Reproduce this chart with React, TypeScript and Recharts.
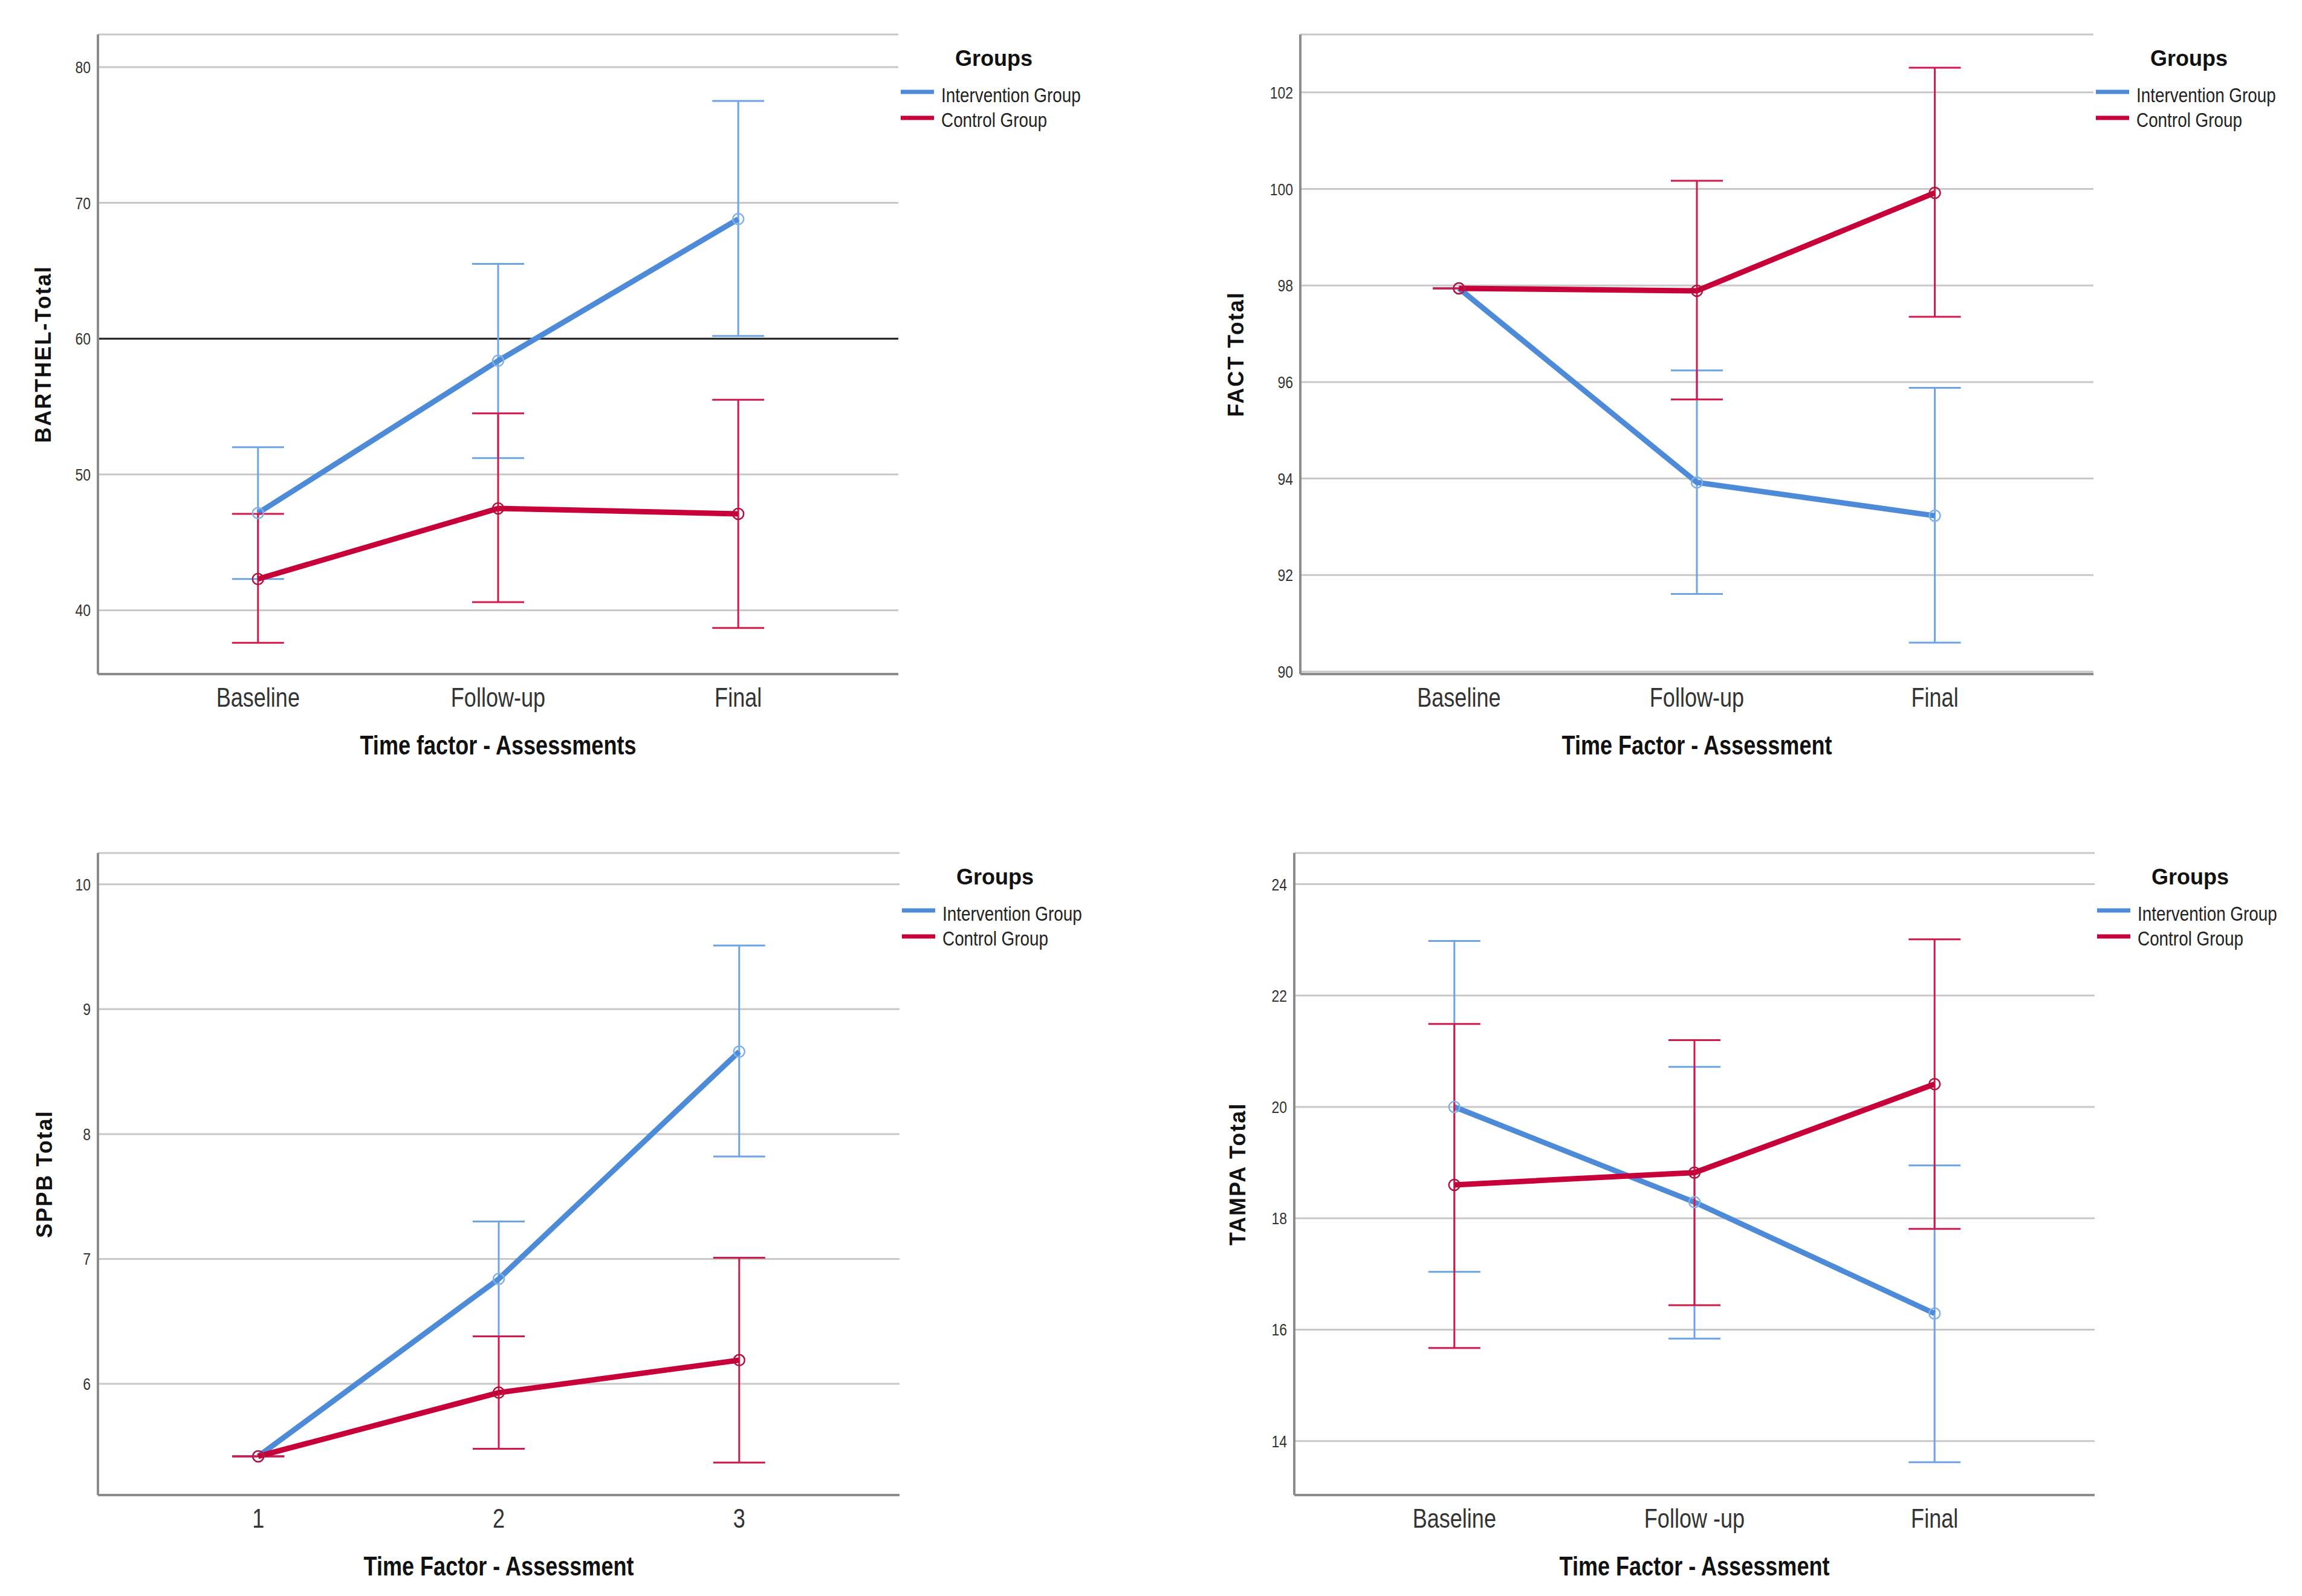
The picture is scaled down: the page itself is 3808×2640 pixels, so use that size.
import React from 'react';
import { LineChart, Line, XAxis, YAxis, CartesianGrid, ErrorBar, Legend, ReferenceLine, Label } from 'recharts';

// time points and tick labels
const timeLabels = ['Baseline', 'Follow-up', 'Final'];
const sppbLabels = ['1', '2', '3'];
const tampaLabels = ['Baseline', 'Follow -up', 'Final'];

// BARTHEL-Total: means and 95% CI bounds
const barthelIntMean = [47.15, 58.37, 68.81];
const barthelIntLow = [42.3, 51.2, 60.2];
const barthelIntHigh = [52.0, 65.5, 77.5];
const barthelCtlMean = [42.3, 47.5, 47.1];
const barthelCtlLow = [37.6, 40.6, 38.7];
const barthelCtlHigh = [47.1, 54.5, 55.5];
const barthelCutoff = 60;

// FACT Total
const factIntMean = [97.94, 93.92, 93.23];
const factIntLow = [97.94, 91.61, 90.6];
const factIntHigh = [97.94, 96.24, 95.88];
const factCtlMean = [97.94, 97.89, 99.92];
const factCtlLow = [97.94, 95.64, 97.35];
const factCtlHigh = [97.94, 100.17, 102.51];

// SPPB Total
const sppbIntMean = [5.42, 6.84, 8.66];
const sppbIntLow = [5.42, 6.38, 7.82];
const sppbIntHigh = [5.42, 7.3, 9.51];
const sppbCtlMean = [5.42, 5.93, 6.19];
const sppbCtlLow = [5.42, 5.48, 5.37];
const sppbCtlHigh = [5.42, 6.38, 7.01];

// TAMPA Total
const tampaIntMean = [20.0, 18.29, 16.29];
const tampaIntLow = [17.04, 15.84, 13.62];
const tampaIntHigh = [22.98, 20.72, 18.95];
const tampaCtlMean = [18.6, 18.82, 20.41];
const tampaCtlLow = [15.67, 16.44, 17.81];
const tampaCtlHigh = [21.49, 21.2, 23.01];

const barthelTicks = [40, 50, 60, 70, 80];
const factTicks = [90, 92, 94, 96, 98, 100, 102];
const sppbTicks = [6, 7, 8, 9, 10];
const tampaTicks = [14, 16, 18, 20, 22, 24];

const groupNames = ['Intervention Group', 'Control Group'];

const BLUE = '#4d8bd9';
const BLUE_BAR = '#6ca4e6';
const RED = '#c8003a';
const RED_BAR = '#d01a4c';
const AXIS = '#8c8c8c';
const GRID = '#c8c8c8';

// Liberation Sans squeezed horizontally stands in for Arial Narrow
const SANS = "'Liberation Sans', Arial, sans-serif";
const NARROW = 0.82;

const CHART_W = 1904;
const CHART_H = 1320;
const Y_AXIS_W = 100;
const X_AXIS_H = 150;

function buildRows(intMean: number[], intLow: number[], intHigh: number[], ctlMean: number[], ctlLow: number[], ctlHigh: number[]) {
  return intMean.map((m, i) => ({
    t: i + 1,
    int: m,
    intErr: [m - intLow[i], intHigh[i] - m],
    ctl: ctlMean[i],
    ctlErr: [ctlMean[i] - ctlLow[i], ctlHigh[i] - ctlMean[i]],
  }));
}

function NarrowText({ x, y, size, anchor = 'start', bold = false, fill = '#333', children }: any) {
  return (
    <text
      transform={`translate(${x},${y}) scale(${NARROW},1)`}
      x={0}
      y={0}
      textAnchor={anchor}
      fontFamily={SANS}
      fontWeight={bold ? 'bold' : 'normal'}
      fontSize={size}
      fill={fill}
    >
      {children}
    </text>
  );
}

function GroupsLegend() {
  const colors = [BLUE, RED];
  return (
    <svg width={330} height={180} style={{ display: 'block' }}>
      <text x={154} y={52} textAnchor="middle" fontFamily={SANS} fontWeight="bold" fontSize={36} fill="#111">
        Groups
      </text>
      {groupNames.map((name, i) => (
        <g key={name}>
          <line x1={0} x2={55} y1={95 + i * 43} y2={95 + i * 43} stroke={colors[i]} strokeWidth={7} />
          <NarrowText x={67} y={112 + i * 41} size={34} fill="#222">
            {name}
          </NarrowText>
        </g>
      ))}
    </svg>
  );
}

type PanelProps = {
  left: number;
  top: number;
  plotLeft: number;
  plotRight: number;
  plotTop: number;
  plotBottom: number;
  rows: any[];
  xLabels: string[];
  yDomain: [number, number];
  yTicks: number[];
  yTitle: string;
  xTitle: string;
  yTitleGap: number;
  refY?: number;
};

function Panel(p: PanelProps) {
  const margin = {
    top: p.plotTop,
    right: CHART_W - p.plotRight,
    left: p.plotLeft - Y_AXIS_W,
    bottom: CHART_H - p.plotBottom - X_AXIS_H,
  };
  return (
    <div style={{ position: 'absolute', left: p.left, top: p.top, width: CHART_W, height: CHART_H }}>
      <LineChart width={CHART_W} height={CHART_H} data={p.rows} margin={margin}>
        <CartesianGrid vertical={false} stroke={GRID} strokeWidth={3} />
        <XAxis
          dataKey="t"
          type="number"
          domain={[1 / 3, 11 / 3]}
          ticks={[1, 2, 3]}
          height={X_AXIS_H}
          tickSize={0}
          tickMargin={23}
          tickLine={false}
          axisLine={{ stroke: AXIS, strokeWidth: 4 }}
          tick={({ x, y, payload }: any) => (
            <NarrowText x={x} y={y + 31} size={44} anchor="middle">
              {p.xLabels[payload.value - 1]}
            </NarrowText>
          )}
        >
          <Label
            content={({ viewBox }: any) => (
              <NarrowText x={viewBox.x + viewBox.width / 2} y={viewBox.y + 133} size={44} anchor="middle" bold fill="#111">
                {p.xTitle}
              </NarrowText>
            )}
          />
        </XAxis>
        <YAxis
          type="number"
          domain={p.yDomain}
          ticks={p.yTicks}
          allowDataOverflow
          width={Y_AXIS_W}
          tickSize={0}
          tickMargin={12}
          tickLine={false}
          axisLine={{ stroke: AXIS, strokeWidth: 4 }}
          tick={({ x, y, payload }: any) => (
            <NarrowText x={x} y={y + 10} size={28} anchor="end">
              {payload.value}
            </NarrowText>
          )}
        >
          <Label
            content={({ viewBox }: any) => {
              const cx = viewBox.x + viewBox.width - p.yTitleGap;
              const cy = viewBox.y + viewBox.height / 2;
              return (
                <text
                  x={cx}
                  y={cy}
                  dy={13}
                  transform={`rotate(-90, ${cx}, ${cy})`}
                  textAnchor="middle"
                  fontFamily={SANS}
                  fontWeight="bold"
                  fontSize={36}
                  letterSpacing={2}
                  fill="#111"
                >
                  {p.yTitle}
                </text>
              );
            }}
          />
        </YAxis>
        {p.refY !== undefined && <ReferenceLine y={p.refY} stroke="#222" strokeWidth={3} />}
        <Legend
          content={<GroupsLegend />}
          align="center"
          verticalAlign="middle"
          layout="horizontal"
          wrapperStyle={{ left: p.plotRight + 4, top: p.plotTop, width: 330, height: 180 }}
        />
        <Line
          dataKey="int"
          name={groupNames[0]}
          type="linear"
          stroke={BLUE}
          strokeWidth={9}
          dot={{ r: 9, stroke: '#7fb0ea', strokeWidth: 2.5, fill: 'none' }}
          activeDot={false}
          isAnimationActive={false}
        >
          <ErrorBar dataKey="intErr" direction="y" width={43} stroke={BLUE_BAR} strokeWidth={3} />
        </Line>
        <Line
          dataKey="ctl"
          name={groupNames[1]}
          type="linear"
          stroke={RED}
          strokeWidth={9}
          dot={{ r: 9, stroke: '#b0103e', strokeWidth: 2.5, fill: 'none' }}
          activeDot={false}
          isAnimationActive={false}
        >
          <ErrorBar dataKey="ctlErr" direction="y" width={43} stroke={RED_BAR} strokeWidth={3} />
        </Line>
      </LineChart>
    </div>
  );
}

export default function App() {
  const barthelRows = buildRows(barthelIntMean, barthelIntLow, barthelIntHigh, barthelCtlMean, barthelCtlLow, barthelCtlHigh);
  const factRows = buildRows(factIntMean, factIntLow, factIntHigh, factCtlMean, factCtlLow, factCtlHigh);
  const sppbRows = buildRows(sppbIntMean, sppbIntLow, sppbIntHigh, sppbCtlMean, sppbCtlLow, sppbCtlHigh);
  const tampaRows = buildRows(tampaIntMean, tampaIntLow, tampaIntHigh, tampaCtlMean, tampaCtlLow, tampaCtlHigh);

  return (
    <div style={{ position: 'absolute', left: 0, top: 0, width: 3808, height: 2640, background: '#fff', overflow: 'hidden' }}>
      <Panel
        left={0}
        top={0}
        plotLeft={162}
        plotRight={1486}
        plotTop={57}
        plotBottom={1115}
        rows={barthelRows}
        xLabels={timeLabels}
        yDomain={[35.3, 82.4]}
        yTicks={barthelTicks}
        yTitle="BARTHEL-Total"
        xTitle="Time factor - Assessments"
        yTitleGap={91}
        refY={barthelCutoff}
      />
      <Panel
        left={1904}
        top={0}
        plotLeft={247}
        plotRight={1559}
        plotTop={57}
        plotBottom={1115}
        rows={factRows}
        xLabels={timeLabels}
        yDomain={[89.95, 103.2]}
        yTicks={factTicks}
        yTitle="FACT Total"
        xTitle="Time Factor - Assessment"
        yTitleGap={107}
      />
      <Panel
        left={0}
        top={1355}
        plotLeft={162}
        plotRight={1488}
        plotTop={56}
        plotBottom={1118}
        rows={sppbRows}
        xLabels={sppbLabels}
        yDomain={[5.11, 10.25]}
        yTicks={sppbTicks}
        yTitle="SPPB Total"
        xTitle="Time Factor - Assessment"
        yTitleGap={89}
      />
      <Panel
        left={1904}
        top={1355}
        plotLeft={237}
        plotRight={1561}
        plotTop={56}
        plotBottom={1118}
        rows={tampaRows}
        xLabels={tampaLabels}
        yDomain={[13.03, 24.56]}
        yTicks={tampaTicks}
        yTitle="TAMPA Total"
        xTitle="Time Factor - Assessment"
        yTitleGap={94}
      />
    </div>
  );
}
